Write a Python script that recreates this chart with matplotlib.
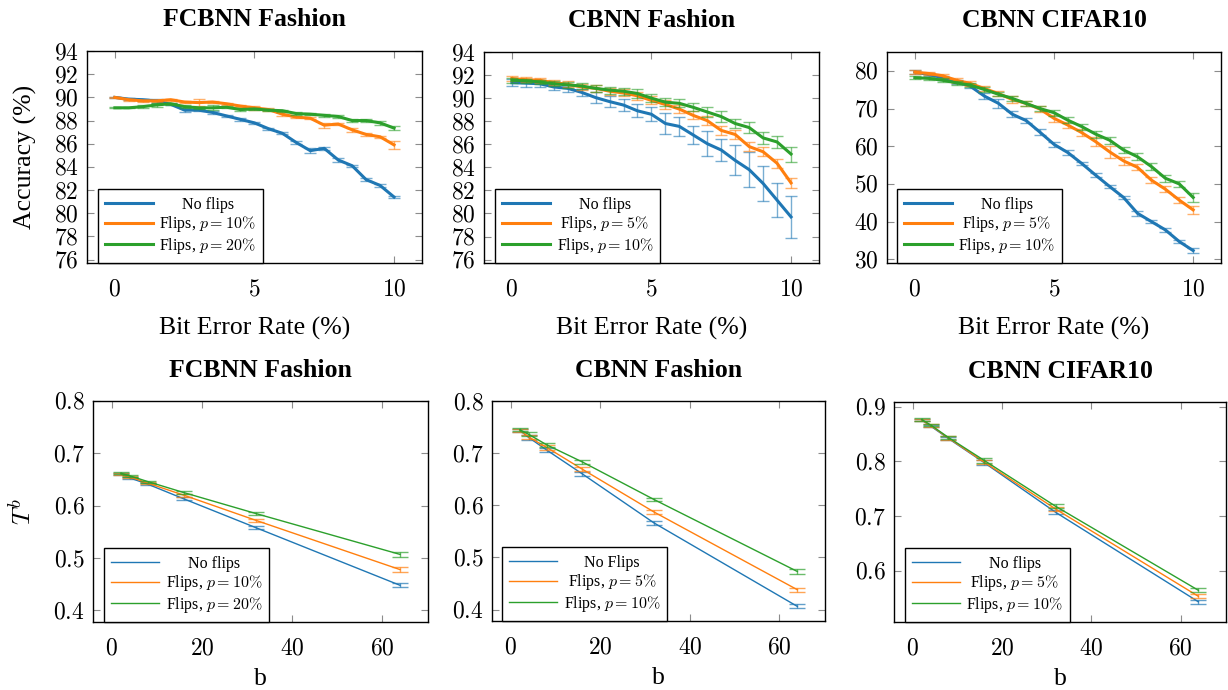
import matplotlib
matplotlib.use("Agg")
import matplotlib.pyplot as plt
from matplotlib.ticker import FuncFormatter

plt.rcParams['font.family'] = ['Liberation Serif', 'DejaVu Serif']
plt.rcParams['mathtext.fontset'] = 'cm'

BLUE = '#1f77b4'
ORANGE = '#ff7f0e'
GREEN = '#2ca02c'

# bit error rates (%) used in the top row
ber = [0, 0.5, 1, 1.5, 2, 2.5, 3, 3.5, 4, 4.5, 5, 5.5, 6, 6.5, 7, 7.5, 8, 8.5, 9, 9.5, 10]

# FCBNN Fashion accuracy
fc_noflip = [90.0, 89.85, 89.8, 89.7, 89.4, 88.9, 88.9, 88.7, 88.4, 88.1, 87.8, 87.3, 86.9, 86.1, 85.4, 85.6, 84.6, 84.1, 82.9, 82.4, 81.4]
fc_noflip_err = [0.05, 0.1, 0.1, 0.15, 0.1, 0.2, 0.1, 0.1, 0.1, 0.1, 0.1, 0.1, 0.1, 0.15, 0.2, 0.15, 0.15, 0.1, 0.15, 0.1, 0.1]
fc_p10 = [90.0, 89.8, 89.7, 89.7, 89.8, 89.6, 89.55, 89.6, 89.45, 89.25, 89.1, 88.95, 88.55, 88.3, 88.2, 87.6, 87.7, 87.2, 86.8, 86.6, 85.9]
fc_p10_err = [0.05, 0.1, 0.1, 0.1, 0.1, 0.1, 0.3, 0.1, 0.1, 0.1, 0.15, 0.1, 0.15, 0.1, 0.1, 0.2, 0.1, 0.2, 0.1, 0.1, 0.35]
fc_p20 = [89.1, 89.1, 89.2, 89.35, 89.45, 89.2, 89.1, 89.1, 89.15, 88.95, 89.0, 88.9, 88.85, 88.6, 88.55, 88.45, 88.35, 88.0, 88.0, 87.8, 87.35]
fc_p20_err = [0.05, 0.05, 0.1, 0.2, 0.1, 0.1, 0.1, 0.2, 0.1, 0.1, 0.1, 0.1, 0.1, 0.1, 0.1, 0.15, 0.1, 0.15, 0.15, 0.15, 0.15]

# CBNN Fashion accuracy
cf_noflip = [91.34, 91.3, 91.25, 90.97, 90.85, 90.5, 90.05, 89.7, 89.4, 88.9, 88.6, 87.8, 87.55, 86.8, 86.05, 85.5, 84.6, 83.8, 82.6, 81.15, 79.7]
cf_noflip_err = [0.3, 0.3, 0.25, 0.3, 0.3, 0.3, 0.45, 0.45, 0.5, 0.55, 0.6, 0.9, 0.8, 0.8, 1.1, 0.95, 1.3, 1.5, 1.5, 1.5, 1.8]
cf_p5 = [91.7, 91.6, 91.55, 91.35, 91.2, 90.97, 90.85, 90.6, 90.45, 90.2, 89.8, 89.45, 89.05, 88.5, 88.05, 87.2, 86.85, 85.8, 85.35, 84.35, 82.65]
cf_p5_err = [0.2, 0.2, 0.2, 0.25, 0.25, 0.25, 0.3, 0.3, 0.3, 0.35, 0.35, 0.35, 0.35, 0.35, 0.4, 0.4, 0.4, 0.4, 0.4, 0.4, 0.45]
cf_p10 = [91.55, 91.5, 91.4, 91.25, 91.15, 91.05, 90.85, 90.7, 90.6, 90.4, 90.0, 89.65, 89.55, 89.2, 88.8, 88.4, 87.8, 87.45, 86.55, 86.2, 85.15]
cf_p10_err = [0.2, 0.2, 0.2, 0.2, 0.25, 0.25, 0.3, 0.3, 0.3, 0.35, 0.35, 0.35, 0.35, 0.35, 0.4, 0.45, 0.4, 0.45, 0.5, 0.5, 0.65]

# CBNN CIFAR10 accuracy
cc_noflip = [79.7, 79.0, 78.2, 77.1, 75.9, 73.3, 71.4, 68.5, 66.8, 63.7, 60.5, 58.3, 55.4, 52.3, 49.3, 46.4, 42.2, 40.0, 37.8, 34.7, 32.3]
cc_noflip_err = [0.6, 0.4, 0.5, 0.5, 0.5, 0.8, 1.2, 0.8, 0.7, 0.8, 0.6, 0.6, 0.5, 0.6, 0.5, 0.5, 0.6, 0.5, 0.5, 0.5, 0.6]
cc_p5 = [79.65, 79.3, 78.7, 77.5, 76.65, 75.3, 74.0, 72.4, 71.35, 69.85, 67.4, 65.6, 63.6, 61.2, 58.5, 56.1, 54.4, 51.0, 48.6, 45.7, 43.1]
cc_p5_err = [0.5, 0.5, 0.5, 0.6, 0.6, 0.7, 0.7, 0.8, 0.7, 0.7, 0.9, 0.8, 0.9, 1.2, 1.5, 1.0, 0.8, 0.8, 0.8, 0.8, 1.0]
cc_p10 = [78.2, 78.0, 77.5, 76.8, 76.2, 75.05, 73.8, 72.7, 71.35, 70.0, 68.9, 66.9, 65.2, 63.2, 61.6, 59.0, 57.2, 54.6, 51.5, 50.0, 46.4]
cc_p10_err = [0.4, 0.4, 0.5, 0.5, 0.5, 0.6, 0.6, 0.7, 0.7, 0.7, 0.8, 0.8, 0.8, 0.9, 0.9, 0.9, 0.9, 0.9, 0.9, 0.8, 1.1]

# block sizes used in the bottom row
blocks = [2, 4, 8, 16, 32, 64]

fc_t_noflip = [0.661, 0.653, 0.641, 0.613, 0.558, 0.448]
fc_t_p10 = [0.661, 0.655, 0.643, 0.620, 0.572, 0.478]
fc_t_p20 = [0.662, 0.657, 0.646, 0.625, 0.585, 0.507]
fc_t_err = [0.002, 0.002, 0.002, 0.003, 0.003, 0.004]

cf_t_noflip = [0.744, 0.730, 0.706, 0.660, 0.566, 0.406]
cf_t_p5 = [0.744, 0.731, 0.711, 0.669, 0.587, 0.438]
cf_t_p10 = [0.745, 0.736, 0.716, 0.683, 0.611, 0.473]
cf_t_err = [0.003, 0.004, 0.004, 0.004, 0.003, 0.004]

cc_t_noflip = [0.876, 0.865, 0.842, 0.798, 0.707, 0.543]
cc_t_p5 = [0.876, 0.866, 0.843, 0.799, 0.713, 0.553]
cc_t_p10 = [0.877, 0.867, 0.844, 0.802, 0.718, 0.564]
cc_t_err = [0.002, 0.002, 0.003, 0.004, 0.004, 0.004]


def math_fmt(v, pos):
    return '$%g$' % v


def style_axes(ax):
    ax.tick_params(direction='in', top=True, right=True, length=5, width=0.8,
                   color='#8c8c8c', labelsize=17)
    ax.tick_params(axis='x', pad=12)
    ax.tick_params(axis='y', pad=6)
    ax.xaxis.set_major_formatter(FuncFormatter(math_fmt))
    ax.yaxis.set_major_formatter(FuncFormatter(math_fmt))
    for sp in ax.spines.values():
        sp.set_linewidth(1.0)


def draw_series(ax, x, y, err, color, label, lw, capsize, alpha):
    ax.errorbar(x, y, yerr=err, fmt='none', ecolor=color, elinewidth=1.0,
                capsize=capsize, capthick=1.0, alpha=alpha)
    ax.plot(x, y, color=color, lw=lw, label=label)


def add_legend(ax, fig, xfrac):
    leg = ax.legend(loc='lower left', bbox_to_anchor=(xfrac, 0.0), borderaxespad=0.0,
                    fontsize=11.5, fancybox=False, framealpha=1.0, edgecolor='black',
                    handlelength=3.0, handletextpad=0.4, labelspacing=0.1, borderpad=0.45)
    leg.get_frame().set_linewidth(1.0)
    # center the entry texts like pgfplots does
    fig.canvas.draw()
    texts = leg.get_texts()
    widths = [t.get_window_extent().width for t in texts]
    maxw = max(widths)
    for t, w in zip(texts, widths):
        t.set_x((maxw - w) / 2)


fig = plt.figure(figsize=(12.28, 6.9), dpi=100)

top_pos = [[0.0708, 0.6188, 0.2728, 0.3072],
           [0.3941, 0.6188, 0.2728, 0.3058],
           [0.7223, 0.6188, 0.2720, 0.3058]]
bot_pos = [[0.0757, 0.0986, 0.2728, 0.3203],
           [0.4007, 0.1000, 0.2712, 0.3188],
           [0.7280, 0.0986, 0.2704, 0.3188]]

# ---- top row: accuracy vs bit error rate
top_data = [
    ('FCBNN Fashion', [(fc_noflip, fc_noflip_err, BLUE, 'No flips'),
                       (fc_p10, fc_p10_err, ORANGE, 'Flips, $p=10\\%$'),
                       (fc_p20, fc_p20_err, GREEN, 'Flips, $p=20\\%$')]),
    ('CBNN Fashion', [(cf_noflip, cf_noflip_err, BLUE, 'No flips'),
                      (cf_p5, cf_p5_err, ORANGE, 'Flips, $p=5\\%$'),
                      (cf_p10, cf_p10_err, GREEN, 'Flips, $p=10\\%$')]),
    ('CBNN CIFAR10', [(cc_noflip, cc_noflip_err, BLUE, 'No flips'),
                      (cc_p5, cc_p5_err, ORANGE, 'Flips, $p=5\\%$'),
                      (cc_p10, cc_p10_err, GREEN, 'Flips, $p=10\\%$')]),
]
top_leg_x = [0.033, 0.033, 0.030]

top_axes = []
for i, (title, series) in enumerate(top_data):
    ax = fig.add_axes(top_pos[i])
    for y, e, c, lab in series:
        draw_series(ax, ber, y, e, c, lab, 2.2, 4.5, 0.6)
    ax.set_xlim(-1, 11)
    ax.set_xticks([0, 5, 10])
    if i < 2:
        ax.set_ylim(75.7, 94.0)
        ax.set_yticks(range(76, 95, 2))
    else:
        ax.set_ylim(29, 85)
        ax.set_yticks(range(30, 81, 10))
    style_axes(ax)
    ax.set_title(title, fontsize=18.5, fontweight='bold', pad=18)
    ax.set_xlabel('Bit Error Rate (%)', fontsize=18.5, labelpad=12)
    if i == 0:
        ax.set_ylabel('Accuracy (%)', fontsize=18.5, labelpad=12)
    top_axes.append(ax)

# ---- bottom row: T^b vs b
bot_data = [
    ('FCBNN Fashion', fc_t_err, [(fc_t_noflip, BLUE, 'No flips'),
                                 (fc_t_p10, ORANGE, 'Flips, $p=10\\%$'),
                                 (fc_t_p20, GREEN, 'Flips, $p=20\\%$')]),
    ('CBNN Fashion', cf_t_err, [(cf_t_noflip, BLUE, 'No Flips'),
                                (cf_t_p5, ORANGE, 'Flips, $p=5\\%$'),
                                (cf_t_p10, GREEN, 'Flips, $p=10\\%$')]),
    ('CBNN CIFAR10', cc_t_err, [(cc_t_noflip, BLUE, 'No flips'),
                                (cc_t_p5, ORANGE, 'Flips, $p=5\\%$'),
                                (cc_t_p10, GREEN, 'Flips, $p=10\\%$')]),
]
bot_leg_x = [0.033, 0.030, 0.033]

bot_axes = []
for i, (title, err, series) in enumerate(bot_data):
    ax = fig.add_axes(bot_pos[i])
    for y, c, lab in series:
        draw_series(ax, blocks, y, err, c, lab, 1.0, 5.5, 0.7)
    ax.set_xlim(-4.2, 70.2)
    ax.set_xticks([0, 20, 40, 60])
    if i < 2:
        ax.set_ylim(0.378, 0.80)
        ax.set_yticks([0.4, 0.5, 0.6, 0.7, 0.8])
    else:
        ax.set_ylim(0.506, 0.909)
        ax.set_yticks([0.6, 0.7, 0.8, 0.9])
    style_axes(ax)
    ax.set_title(title, fontsize=18.5, fontweight='bold', pad=17)
    ax.set_xlabel('b', fontsize=18.5, labelpad=6)
    if i == 0:
        ax.set_ylabel('$T^b$', fontsize=18.5, labelpad=12)
    bot_axes.append(ax)

for i, ax in enumerate(top_axes):
    add_legend(ax, fig, top_leg_x[i])
for i, ax in enumerate(bot_axes):
    add_legend(ax, fig, bot_leg_x[i])

fig.savefig('out.png', dpi=100)
